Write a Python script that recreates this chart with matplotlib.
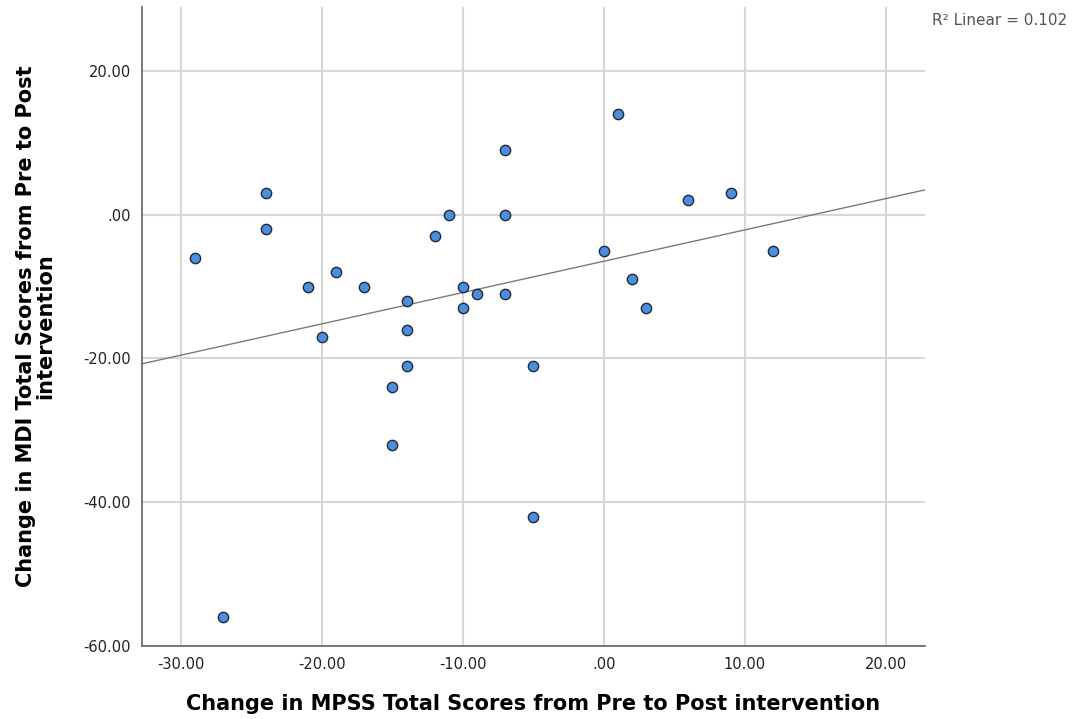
import numpy as np
import matplotlib
matplotlib.use("Agg")
import matplotlib.pyplot as plt
from matplotlib.ticker import FuncFormatter

# Change scores per participant (MPSS on x, MDI on y)
mpss_change = [-29, -24, -24, -21, -19, -20, -17, -14, -14, -14,
               -15, -15, -12, -11, -10, -10, -9, -7, -7, -7,
               -5, -5, 0, 1, 2, 3, 6, 9, 12, -27]
mdi_change = [-6, 3, -2, -10, -8, -17, -10, -12, -16, -21,
              -24, -32, -3, 0, -10, -13, -11, 9, 0, -11,
              -21, -42, -5, 14, -9, -13, 2, 3, -5, -56]

x_ticks = [-30, -20, -10, 0, 10, 20]
y_ticks = [-60, -40, -20, 0, 20]
r2_label = "R\u00b2 Linear = 0.102"

x = np.array(mpss_change, dtype=float)
y = np.array(mdi_change, dtype=float)
slope, intercept = np.polyfit(x, y, 1)

plt.rcParams["font.family"] = ["DejaVu Sans"]

fig = plt.figure(figsize=(10.72, 7.19), dpi=100)
ax = fig.add_axes([0.1325, 0.1015, 0.7304, 0.8888])

xlim = (-32.77, 22.79)
ylim = (-60.0, 28.9)
ax.set_xlim(*xlim)
ax.set_ylim(*ylim)

ax.set_xticks(x_ticks)
ax.set_yticks(y_ticks)


def spss_fmt(v, pos):
    # SPSS style: two decimals, no leading zero
    s = f"{v:.2f}"
    if s.startswith("0."):
        s = s[1:]
    elif s.startswith("-0."):
        s = "-" + s[2:]
    return s


ax.xaxis.set_major_formatter(FuncFormatter(spss_fmt))
ax.yaxis.set_major_formatter(FuncFormatter(spss_fmt))

ax.grid(True, color="#d6d6d6", linewidth=1.5)
ax.set_axisbelow(True)
ax.tick_params(length=0, labelsize=10.5, colors="#222222", pad=8)

for side in ("top", "right"):
    ax.spines[side].set_visible(False)
for side in ("left", "bottom"):
    ax.spines[side].set_color("#6e6e6e")
    ax.spines[side].set_linewidth(1.3)

# fitted line across the full x range
xs = np.array(xlim)
ax.plot(xs, slope * xs + intercept, color="#7a7a7a", linewidth=1.0, zorder=2)

ax.scatter(x, y, s=55, color="#4a8fe0", edgecolors="#1f2a38",
           linewidths=1.0, zorder=3, clip_on=False)

ax.set_xlabel("Change in MPSS Total Scores from Pre to Post intervention",
              fontsize=15, fontweight="bold", labelpad=16)
ax.set_ylabel("Change in MDI Total Scores from Pre to Post\nintervention",
              fontsize=15, fontweight="bold", labelpad=20, linespacing=0.95)

fig.text(0.869, 0.971, r2_label, fontsize=11, color="#555555",
         ha="left", va="center")

fig.savefig("out.png", dpi=100)
